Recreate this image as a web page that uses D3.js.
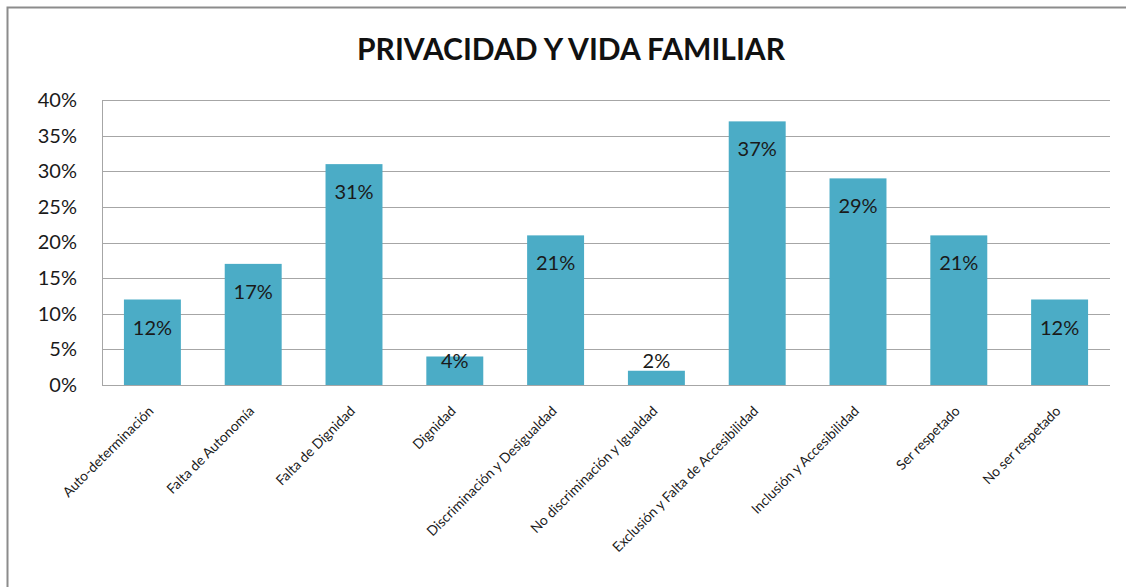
<!DOCTYPE html>
<html><head><meta charset="utf-8">
<script src="https://cdn.jsdelivr.net/npm/d3@7"></script>
<style>body{margin:0;background:#fff;overflow:hidden}</style>
</head><body>
<svg id="c" width="1126" height="587"></svg>
<script>
const categories = ["Auto-determinación","Falta de Autonomía","Falta de Dignidad","Dignidad","Discriminación y Desigualdad","No discriminación  y Igualdad","Exclusión y Falta de Accesibilidad","Inclusión y Accesibilidad","Ser respetado","No ser respetado"];
const values = [0.12,0.17,0.31,0.04,0.21,0.02,0.37,0.29,0.21,0.12];
const yTicks = [0,0.05,0.10,0.15,0.20,0.25,0.30,0.35,0.40];
const title = "PRIVACIDAD Y VIDA FAMILIAR";

const svg = d3.select("#c");
const font = "Lato, 'Open Sans', sans-serif";
svg.append("rect").attr("x",0).attr("y",0).attr("width",1126).attr("height",587).attr("fill","#fff");
svg.append("rect").attr("x",7.5).attr("y",7.5).attr("width",1130).attr("height",600)
  .attr("fill","none").attr("stroke","#8c8c8c").attr("stroke-width",2);

const L=102,R=1110,T=100,B=385;
const x = d3.scaleBand().domain(categories).range([L,R]).paddingInner(0.435).paddingOuter(0.2175);
const y = d3.scaleLinear().domain([0,0.4]).range([B,T]);

svg.append("text").attr("x",571).attr("y",60).attr("text-anchor","middle")
  .attr("font-family",font).attr("font-weight","bold").attr("font-size",30).attr("fill","#111").text(title);

// gridlines
svg.append("g").selectAll("line").data(yTicks).join("line")
  .attr("x1",L).attr("x2",R).attr("y1",d=>Math.round(y(d))+0.5).attr("y2",d=>Math.round(y(d))+0.5)
  .attr("stroke","#a6a6a6").attr("stroke-width",1);
svg.append("line").attr("x1",L+0.5).attr("x2",L+0.5).attr("y1",T).attr("y2",B).attr("stroke","#a6a6a6");

// y axis labels
const yAxis = d3.axisLeft(y).tickValues(yTicks).tickFormat(d3.format(".0%")).tickSize(0).tickPadding(25);
const ga = svg.append("g").attr("transform",`translate(${L},0)`).call(yAxis);
ga.select(".domain").remove();
ga.selectAll("text").attr("font-family",font).attr("font-size",20).attr("fill","#1a1a1a");

// bars
svg.append("g").selectAll("rect").data(values).join("rect")
  .attr("x",(d,i)=>x(categories[i])).attr("width",x.bandwidth())
  .attr("y",d=>y(d)).attr("height",d=>B-y(d)).attr("fill","#4bacc6");

// value labels
svg.append("g").selectAll("text").data(values).join("text")
  .attr("x",(d,i)=>x(categories[i])+x.bandwidth()/2)
  .attr("y",d=>Math.min(y(d)+28,361)).attr("dy","0.35em").attr("text-anchor","middle")
  .attr("font-family",font).attr("font-size",20).attr("fill","#1a1a1a")
  .text(d=>d3.format(".0%")(d));

// category labels
const xAxis = d3.axisBottom(x).tickSize(0).tickPadding(0);
const gx = svg.append("g").attr("transform",`translate(0,${B})`).call(xAxis);
gx.select(".domain").remove();
gx.selectAll("text").attr("font-family",font).attr("font-size",13.8).attr("fill","#1a1a1a")
  .attr("text-anchor","end").attr("dy",0).attr("y",0)
  .attr("transform","translate(2,27) rotate(-45)");
</script>
</body></html>
